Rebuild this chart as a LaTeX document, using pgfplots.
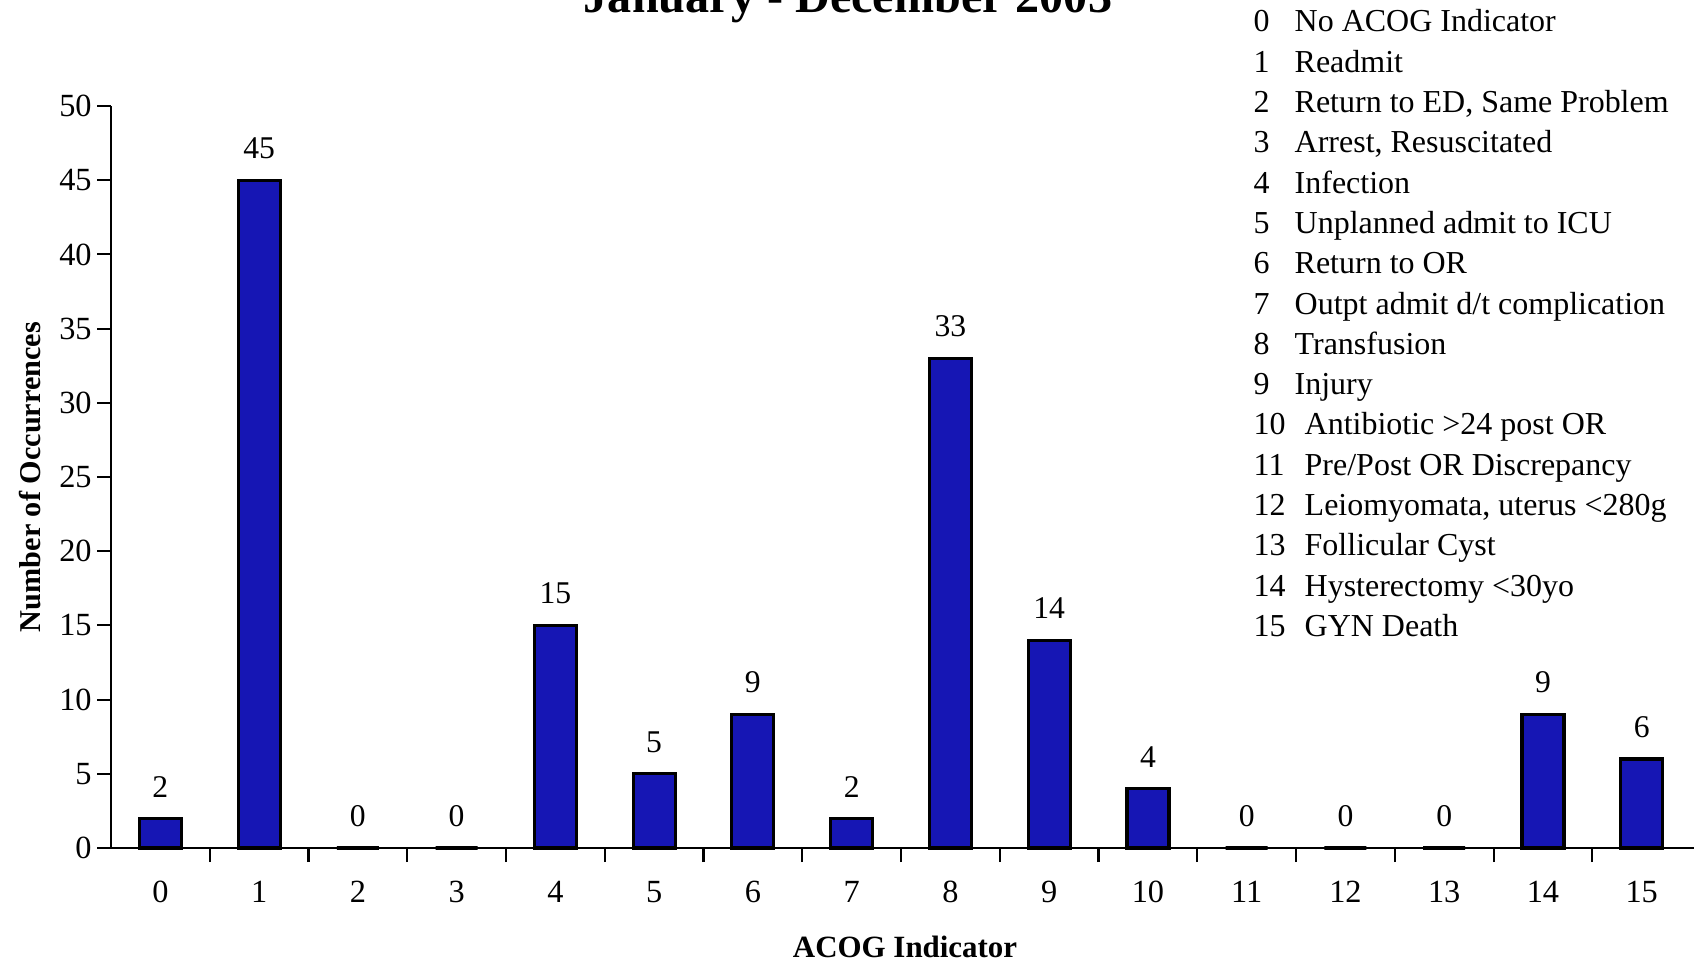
\documentclass[border=0pt]{standalone}
\usepackage{pgfplots}
\pgfplotsset{compat=1.18}
\usepackage{fontspec}
\setmainfont{Liberation Serif}
\definecolor{barblue}{RGB}{22,22,180}
\begin{document}
\begin{tikzpicture}
\path[use as bounding box] (0,0) rectangle (16.94,9.61);
\begin{axis}[
  at={(1.11cm,1.13cm)}, anchor=south west,
  scale only axis, width=15.85cm, height=7.42cm,
  xmin=-0.5, xmax=15.55, ymin=0, ymax=50,
  axis x line=bottom, axis y line=left,
  axis line style={-, line width=0.6pt},
  ybar, bar width=0.42cm, bar shift=0pt,
  xtick={0,...,15},
  major x tick style={draw=none},
  minor xtick={0.5,1.5,...,14.5},
  minor x tick style={black, line width=0.6pt},
  minor tick length=0.14cm,
  ytick={0,5,...,50},
  major y tick style={black, line width=0.6pt},
  major tick length=0.14cm,
  tick align=outside,
  /pgf/number format/assume math mode=true,
  tick label style={font=\fontsize{9.2}{11}\selectfont},
  x tick label style={yshift=-0.07cm},
  y tick label style={xshift=0.07cm},
  xlabel={\textbf{ACOG Indicator}},
  xlabel style={at={(axis description cs:0.501,-0.1334)}, anchor=center, font=\fontsize{8.8}{11}\selectfont},
  ylabel={\textbf{Number of Occurrences}},
  ylabel style={at={(axis description cs:-0.0511,0.5)}, anchor=center, font=\fontsize{8.6}{11}\selectfont},
  nodes near coords,
  nodes near coords style={font=\fontsize{9}{11}\selectfont, yshift=0.08cm, /pgf/number format/assume math mode=true},
  clip=false,
]
\addplot[fill=barblue, draw=black, line width=0.9pt] coordinates {
(0,2) (1,45) (2,0) (3,0) (4,15) (5,5) (6,9) (7,2) (8,33) (9,14) (10,4) (11,0) (12,0) (13,0) (14,9) (15,6)};
\end{axis}
\node[anchor=base, font=\bfseries\fontsize{13.7}{16}\selectfont] at (8.48,9.48) {January - December 2003};
\foreach \n/\t [count=\i from 0] in {0/{No ACOG Indicator},1/{Readmit},2/{Return to ED, Same Problem},3/{Arrest, Resuscitated},4/{Infection},5/{Unplanned admit to ICU},6/{Return to OR},7/{Outpt admit d/t complication},8/{Transfusion},9/{Injury}}{
  \node[anchor=base west, inner sep=0pt, font=\fontsize{9.1}{11}\selectfont] at (12.53,9.29-0.403*\i) {\n};
  \node[anchor=base west, inner sep=0pt, font=\fontsize{9.1}{11}\selectfont] at (12.94,9.29-0.403*\i) {\t};
}
\foreach \n/\t [count=\i from 10] in {10/{Antibiotic >24 post OR},11/{Pre/Post OR Discrepancy},12/{Leiomyomata, uterus <280g},13/{Follicular Cyst},14/{Hysterectomy <30yo},15/{GYN Death}}{
  \node[anchor=base west, inner sep=0pt, font=\fontsize{9.1}{11}\selectfont] at (12.53,9.29-0.403*\i) {\n};
  \node[anchor=base west, inner sep=0pt, font=\fontsize{9.1}{11}\selectfont] at (13.04,9.29-0.403*\i) {\t};
}
\end{tikzpicture}
\end{document}
